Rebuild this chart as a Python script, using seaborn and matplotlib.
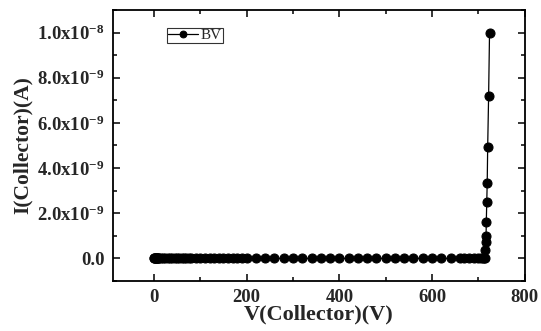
import matplotlib
matplotlib.use("Agg")
import matplotlib.pyplot as plt
import seaborn as sns
import pandas as pd
from matplotlib.ticker import MultipleLocator, FixedLocator, FixedFormatter

sns.set_theme(style="ticks")
plt.rcParams['font.family'] = ['Liberation Serif', 'DejaVu Serif']
plt.rcParams['mathtext.default'] = 'regular'

voltage = [0, 1, 2, 3, 4, 5, 6, 7, 8, 9, 10, 15, 20, 25, 30, 35, 40, 45, 50, 55,
           60, 65, 70, 75, 80, 90, 100, 110, 120, 130, 140, 150, 160, 170, 180,
           190, 200, 220, 240, 260, 280, 300, 320, 340, 360, 380, 400, 420, 440,
           460, 480, 500, 520, 540, 560, 580, 600, 620, 640, 660, 670, 680, 690,
           700, 705, 710, 712, 714, 715, 716, 716.5, 717, 718, 719, 720, 722, 724]
current = [0.0] * 68 + [0.36e-9, 0.73e-9, 0.98e-9, 1.61e-9, 2.48e-9, 3.36e-9,
                        4.92e-9, 7.17e-9, 1.0e-8]

ytick_vals = [0.0, 2e-9, 4e-9, 6e-9, 8e-9, 1e-8]
ytick_labels = ["0.0", "2.0x10$^{-9}$", "4.0x10$^{-9}$", "6.0x10$^{-9}$",
                "8.0x10$^{-9}$", "1.0x10$^{-8}$"]
xtick_vals = [0, 200, 400, 600, 800]

df = pd.DataFrame({"V": voltage, "I": current, "series": "BV"})

fig = plt.figure(figsize=(5.41, 3.31), dpi=100)
ax = fig.add_axes([0.209, 0.151, 0.761, 0.819])

sns.lineplot(data=df, x="V", y="I", hue="series", palette=["black"],
             marker="o", markersize=6.5, markeredgecolor="black",
             linewidth=0.9, sort=False, estimator=None, ax=ax)

ax.set_xlim(-88, 800)
ax.set_ylim(-1.0e-9, 1.1e-8)
ax.xaxis.set_major_locator(FixedLocator(xtick_vals))
ax.xaxis.set_minor_locator(MultipleLocator(100))
ax.yaxis.set_major_locator(FixedLocator(ytick_vals))
ax.yaxis.set_major_formatter(FixedFormatter(ytick_labels))
ax.yaxis.set_minor_locator(MultipleLocator(1e-9))

for s in ax.spines.values():
    s.set_linewidth(1.3)
    s.set_color("black")

ax.tick_params(which="both", direction="in", top=True, right=True,
               color="black", width=1.1)
ax.tick_params(which="major", length=5, labelsize=13.5, pad=6)
ax.tick_params(which="minor", length=3)
for lab in ax.get_xticklabels() + ax.get_yticklabels():
    lab.set_fontweight("bold")

ax.set_xlabel("V(Collector)(V)", fontsize=16, fontweight="bold", labelpad=-1)
ax.set_ylabel("I(Collector)(A)", fontsize=15.5, fontweight="bold", labelpad=3)

leg = ax.legend(loc="upper left", bbox_to_anchor=(0.131, 0.935), fontsize=11,
                frameon=True, fancybox=False, borderpad=0.05,
                handlelength=2.0, handletextpad=0.15, borderaxespad=0,
                markerscale=0.75)
leg.get_frame().set_edgecolor("black")
leg.get_frame().set_linewidth(0.8)

fig.savefig("out.png", dpi=100)
